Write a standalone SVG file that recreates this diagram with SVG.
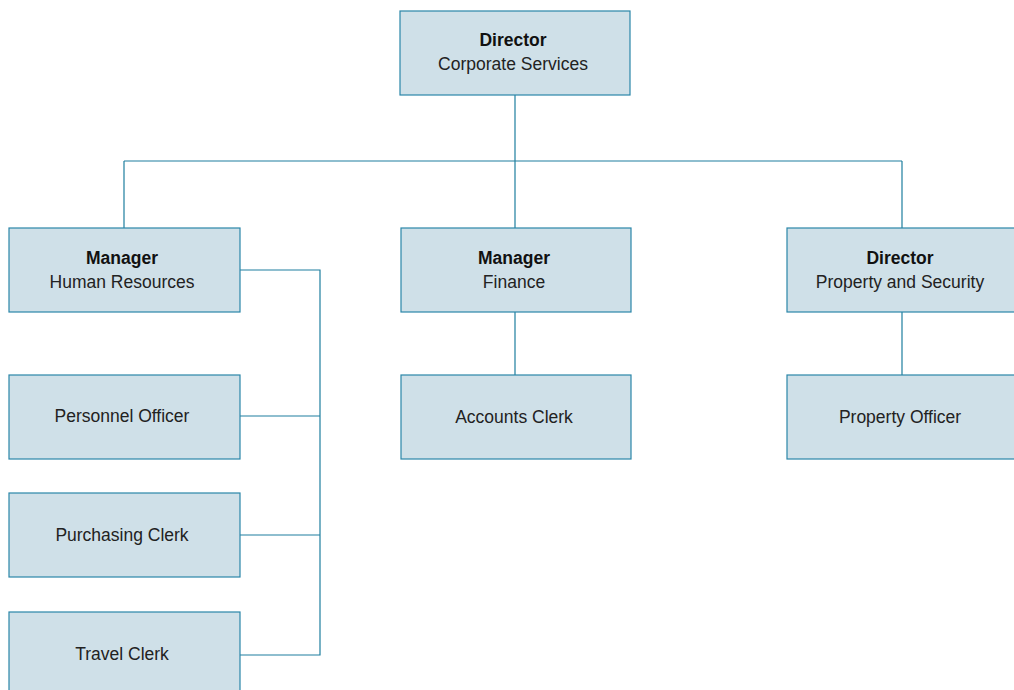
<svg xmlns="http://www.w3.org/2000/svg" width="1014" height="690" viewBox="0 0 1014 690">
<style>
.box{fill:#cfe0e8;stroke:#2a86a8;stroke-width:1.2}
.t{font-family:"Liberation Sans",Arial,sans-serif;font-size:17.5px;fill:#222;text-anchor:middle}
.b{font-weight:bold;fill:#111}
.c{fill:none;stroke:#1f7f9f;stroke-width:1.2}
</style>
<rect width="1014" height="690" fill="#fff"/>
<g id="connectors">
<path class="c" d="M515 95V161M124 161H902M124 161V228M515 161V228M902 161V228"/>
<path class="c" d="M240 270H320V655H240M240 416H320M240 535H320"/>
<path class="c" d="M515 312V375M902 312V375"/>
</g>
<g id="director-corporate"><rect class="box" x="400" y="11" width="230" height="84"/><text class="t b" x="513" y="46">Director</text><text class="t" x="513" y="70">Corporate Services</text></g>
<g id="manager-hr"><rect class="box" x="9" y="228" width="231" height="84"/><text class="t b" x="122" y="264">Manager</text><text class="t" x="122" y="288">Human Resources</text></g>
<g id="manager-finance"><rect class="box" x="401" y="228" width="230" height="84"/><text class="t b" x="514" y="264">Manager</text><text class="t" x="514" y="288">Finance</text></g>
<g id="director-property"><rect class="box" x="787" y="228" width="230" height="84"/><text class="t b" x="900" y="264">Director</text><text class="t" x="900" y="288">Property and Security</text></g>
<g id="personnel-officer"><rect class="box" x="9" y="375" width="231" height="84"/><text class="t" x="122" y="422">Personnel Officer</text></g>
<g id="purchasing-clerk"><rect class="box" x="9" y="493" width="231" height="84"/><text class="t" x="122" y="541">Purchasing Clerk</text></g>
<g id="travel-clerk"><rect class="box" x="9" y="612" width="231" height="84"/><text class="t" x="122" y="660">Travel Clerk</text></g>
<g id="accounts-clerk"><rect class="box" x="401" y="375" width="230" height="84"/><text class="t" x="514" y="423">Accounts Clerk</text></g>
<g id="property-officer"><rect class="box" x="787" y="375" width="230" height="84"/><text class="t" x="900" y="423">Property Officer</text></g>
</svg>
